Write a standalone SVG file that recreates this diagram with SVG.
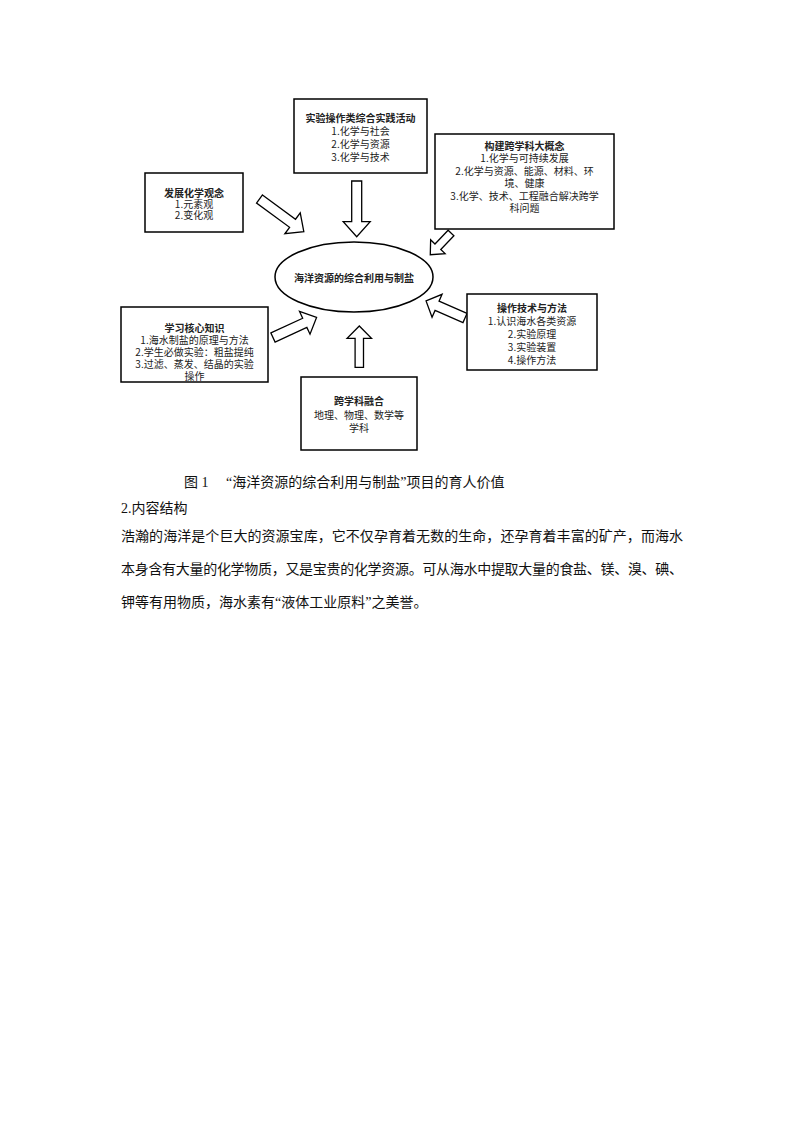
<svg xmlns="http://www.w3.org/2000/svg" width="794" height="1123" viewBox="0 0 794 1123">
<style>
.box{fill:#fff;stroke:#000;stroke-width:1.5}
.arr{fill:#fff;stroke:#000;stroke-width:1.3;stroke-linejoin:miter}
.t{font-family:"Noto Sans CJK SC","Noto Sans",sans-serif;font-size:10px;fill:#222;text-anchor:middle;dominant-baseline:central}
.b{font-weight:bold}
.body{font-family:"Liberation Serif","Noto Sans CJK SC",serif;font-size:14px;fill:#111;dominant-baseline:central}
</style>
<rect width="794" height="1123" fill="#fff"/>
<g id="connectors">
<polygon class="arr" transform="translate(259.5,199) rotate(36.3)" points="0,-5 41,-5 41,-13 55,0 41,13 41,5 0,5"/>
<polygon class="arr" transform="translate(356.7,181) rotate(90)" points="0,-5 40.7,-5 40.7,-13.5 55.7,0 40.7,13.5 40.7,5 0,5"/>
<polygon class="arr" transform="translate(451,233) rotate(133.7)" points="0,-4 19,-4 19,-10 30,0 19,10 19,4 0,4"/>
<polygon class="arr" transform="translate(465,318) rotate(203.6)" points="0,-5 30.5,-5 30.5,-12.5 42.5,0 30.5,12.5 30.5,5 0,5"/>
<polygon class="arr" transform="translate(273,337.5) rotate(-24.8)" points="0,-5 35,-5 35,-12.5 48,0 35,12.5 35,5 0,5"/>
<polygon class="arr" transform="translate(359.3,367.3) rotate(-90)" points="0,-4.2 29,-4.2 29,-12.2 41.3,0 29,12.2 29,4.2 0,4.2"/>
</g>
<g id="center">
<ellipse cx="354" cy="277" rx="79" ry="35" fill="#fff" stroke="#000" stroke-width="1.5"/>
<text class="t b" x="354" y="277" font-size="9.8">海洋资源的综合利用与制盐</text>
</g>
<g id="node-guannian">
<rect class="box" x="145" y="173" width="98" height="59"/>
<text class="t b" x="194" y="192">发展化学观念</text>
<text class="t" x="194" y="203">1.元素观</text>
<text class="t" x="194" y="214">2.变化观</text>
</g>
<g id="node-shijian">
<rect class="box" x="294" y="99" width="133" height="74"/>
<text class="t b" x="360.5" y="117">实验操作类综合实践活动</text>
<text class="t" x="360.5" y="130">1.化学与社会</text>
<text class="t" x="360.5" y="143">2.化学与资源</text>
<text class="t" x="360.5" y="156">3.化学与技术</text>
</g>
<g id="node-gainian">
<rect class="box" x="435" y="134" width="179" height="95"/>
<text class="t b" x="524.5" y="145">构建跨学科大概念</text>
<text class="t" x="524.5" y="157.5">1.化学与可持续发展</text>
<text class="t" x="524.5" y="170">2.化学与资源、能源、材料、环</text>
<text class="t" x="524.5" y="182.5">境、健康</text>
<text class="t" x="524.5" y="195">3.化学、技术、工程融合解决跨学</text>
<text class="t" x="524.5" y="207.5">科问题</text>
</g>
<g id="node-zhishi">
<rect class="box" x="121" y="307" width="147" height="75"/>
<text class="t b" x="194.5" y="327">学习核心知识</text>
<text class="t" x="194.5" y="339">1.海水制盐的原理与方法</text>
<text class="t" x="194.5" y="351">2.学生必做实验：粗盐提纯</text>
<text class="t" x="194.5" y="363">3.过滤、蒸发、结晶的实验</text>
<text class="t" x="194.5" y="375">操作</text>
</g>
<g id="node-jishu">
<rect class="box" x="467" y="294" width="130" height="76"/>
<text class="t b" x="532" y="307">操作技术与方法</text>
<text class="t" x="532" y="320">1.认识海水各类资源</text>
<text class="t" x="532" y="333">2.实验原理</text>
<text class="t" x="532" y="346">3.实验装置</text>
<text class="t" x="532" y="359">4.操作方法</text>
</g>
<g id="node-ronghe">
<rect class="box" x="301" y="377" width="116" height="73"/>
<text class="t b" x="359" y="400">跨学科融合</text>
<text class="t" x="359" y="414">地理、物理、数学等</text>
<text class="t" x="359" y="427">学科</text>
</g>
<g id="caption">
<text class="body" x="184" y="482.5" font-size="13.5">图 1</text>
<text class="body" x="226" y="482.5" font-size="13.5">“海洋资源的综合利用与制盐”项目的育人价值</text>
<text class="body" x="121" y="508">2.内容结构</text>
<text class="body" x="121" y="536" textLength="562" lengthAdjust="spacing">浩瀚的海洋是个巨大的资源宝库，它不仅孕育着无数的生命，还孕育着丰富的矿产，而海水</text>
<text class="body" x="121" y="569" textLength="562" lengthAdjust="spacing">本身含有大量的化学物质，又是宝贵的化学资源。可从海水中提取大量的食盐、镁、溴、碘、</text>
<text class="body" x="121" y="602">钾等有用物质，海水素有“液体工业原料”之美誉。</text>
</g>
</svg>
